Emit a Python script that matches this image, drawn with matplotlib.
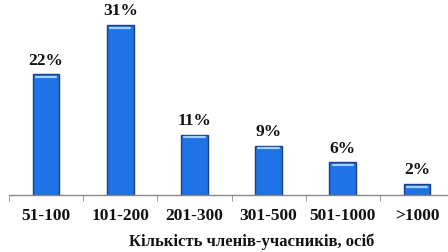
import matplotlib
matplotlib.use("Agg")
import matplotlib.pyplot as plt
import numpy as np

categories = ["51-100", "101-200", "201-300", "301-500", "501-1000", ">1000"]
shares = [22, 31, 11, 9, 6, 2]
xlabel = "Кількість членів-учасників, осіб"

plt.rcParams["font.family"] = ["Liberation Serif", "DejaVu Serif"]

fig = plt.figure(figsize=(4.48, 2.52), dpi=100)
ax = fig.add_axes([9 / 448, 57 / 252, 445 / 448, 192 / 252])

x = np.arange(len(categories))
bars = ax.bar(x, shares, width=0.36, color="#1F72E6", edgecolor="#1B3F86", linewidth=1.0, zorder=2)

# light highlight near top of each bar
for bar, value in zip(bars, shares):
    ax.plot([bar.get_x() + bar.get_width() * 0.12, bar.get_x() + bar.get_width() * 0.88],
            [value - 0.5, value - 0.5], color="#9FD0FF", lw=1.6, zorder=3,
            solid_capstyle="round")
    ax.annotate(f"{value}%", (bar.get_x() + bar.get_width() / 2, value),
                xytext=(0, 4), textcoords="offset points", ha="center", va="bottom",
                fontsize=12.5, fontweight="bold", color="#111111")

ax.set_xlim(-0.5, len(categories) - 0.5)
ax.set_ylim(0, 35)
ax.set_xticks(x)
ax.set_xticklabels(categories, fontsize=12.5, fontweight="bold", color="#111111")
ax.set_xticks(np.arange(-0.5, len(categories), 1), minor=True)
ax.tick_params(axis="x", which="major", length=0, pad=9)
ax.tick_params(axis="x", which="minor", length=4, direction="out", color="#888888")
ax.set_yticks([])
for side in ["top", "right", "left"]:
    ax.spines[side].set_visible(False)
ax.spines["bottom"].set_color("#888888")
ax.spines["bottom"].set_linewidth(1.0)

fig.text(252 / 448, 1 - 242 / 252, xlabel, ha="center", va="center",
         fontsize=12, fontweight="bold", color="#111111")

fig.savefig("out.png", dpi=100)
plt.close(fig)
